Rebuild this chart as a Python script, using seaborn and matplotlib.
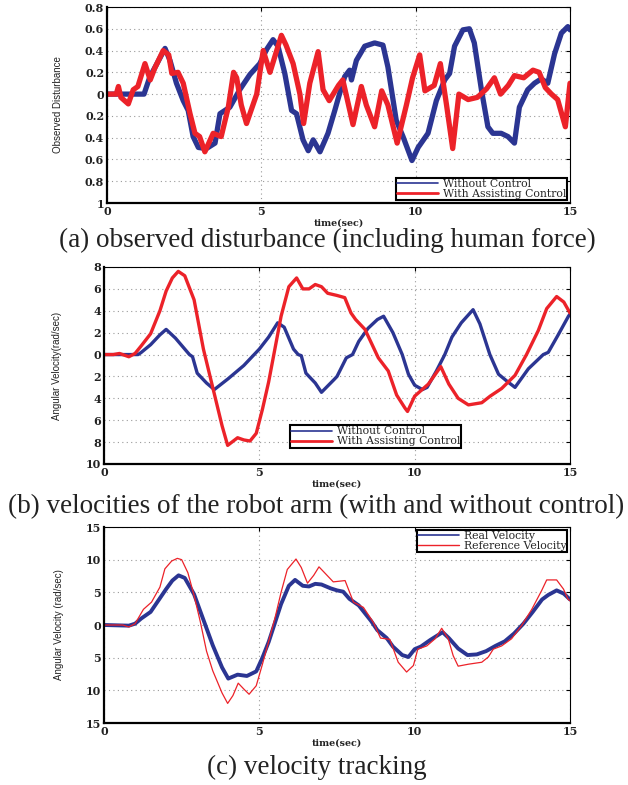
import matplotlib
matplotlib.use("Agg")
import matplotlib.pyplot as plt
from matplotlib.lines import Line2D
import seaborn as sns
import pandas as pd

# ---------------- data ----------------
# (a) observed disturbance
t_a_without = [0, 1.2, 1.39, 1.6, 1.88, 2.04, 2.25, 2.47, 2.63, 2.79, 2.96, 3.22, 3.5, 3.66, 3.98, 4.3,
               4.63, 4.95, 5.17, 5.38, 5.54, 5.76, 5.98, 6.14, 6.35, 6.52, 6.68, 6.9, 7.16, 7.38, 7.5,
               7.7, 7.86, 7.92, 8.08, 8.35, 8.67, 8.94, 9.1, 9.37, 9.59, 9.88, 10.08, 10.4, 10.67, 10.94,
               11.1, 11.26, 11.53, 11.74, 11.9, 12.13, 12.34, 12.5, 12.77, 12.99, 13.2, 13.36, 13.63,
               13.85, 14.07, 14.28, 14.5, 14.72, 14.93, 15.0]
d_a_without = [0, 0, 0.16, 0.27, 0.42, 0.31, 0.1, -0.06, -0.15, -0.39, -0.49, -0.5, -0.45, -0.18, -0.12, 0.04,
               0.18, 0.28, 0.41, 0.5, 0.44, 0.19, -0.15, -0.18, -0.42, -0.52, -0.42, -0.53, -0.36, -0.15, -0.03,
               0.16, 0.22, 0.13, 0.31, 0.44, 0.47, 0.45, 0.25, -0.24, -0.39, -0.61, -0.49, -0.36, -0.06, 0.13,
               0.19, 0.44, 0.59, 0.6, 0.47, 0.04, -0.3, -0.36, -0.36, -0.39, -0.45, -0.12, 0.04,
               0.1, 0.14, 0.1, 0.37, 0.56, 0.62, 0.59]
t_a_with = [0, 0.3, 0.37, 0.45, 0.69, 0.85, 1.0, 1.23, 1.4, 1.55, 1.82, 2.0, 2.1, 2.3, 2.47, 2.69, 2.85, 3.0,
            3.17, 3.44, 3.7, 3.93, 4.1, 4.2, 4.35, 4.52, 4.85, 5.06, 5.28, 5.65, 5.8, 6.03, 6.25, 6.37, 6.57,
            6.84, 7.0, 7.2, 7.5, 7.64, 7.97, 8.24, 8.4, 8.67, 8.9, 9.1, 9.4, 9.7, 9.9, 10.13, 10.3, 10.6,
            10.8, 11.0, 11.2, 11.4, 11.7, 12.0, 12.3, 12.55, 12.75, 13.0, 13.2, 13.5, 13.8, 14.0, 14.2,
            14.4, 14.6, 14.85, 15.0]
d_a_with = [0, 0, 0.07, -0.03, -0.09, 0.04, 0.07, 0.28, 0.13, 0.24, 0.4, 0.36, 0.19, 0.2, 0.1, -0.18, -0.36, -0.39,
            -0.53, -0.36, -0.39, -0.12, 0.2, 0.15, -0.1, -0.27, 0.0, 0.4, 0.2, 0.54, 0.45, 0.28, 0.0, -0.27, 0.1,
            0.39, 0.04, -0.06, 0.08, 0.13, -0.28, 0.07, -0.1, -0.3, 0.03, -0.1, -0.45, -0.1, 0.15, 0.36, 0.03, 0.08,
            0.28, -0.1, -0.5, 0.0, -0.05, -0.03, 0.05, 0.15, 0.0, 0.08, 0.17, 0.15, 0.22, 0.2, 0.06,
            0.0, -0.05, -0.3, 0.1]

# (b) velocities of the robot arm
t_b_without = [0, 1.1, 1.2, 1.5, 1.8, 2.0, 2.3, 2.6, 2.75, 2.85, 3.0, 3.3, 3.55, 4.0, 4.5, 5.0, 5.3, 5.59,
               5.8, 6.1, 6.25, 6.35, 6.5, 6.8, 7.0, 7.4, 7.5, 7.8, 8.0, 8.2, 8.5, 8.8, 9.0, 9.3, 9.6, 9.8,
               10.0, 10.25, 10.4, 10.7, 10.97, 11.2, 11.5, 11.88, 12.1, 12.42, 12.7, 13.0, 13.23, 13.66,
               14.14, 14.3, 14.6, 14.95, 15.0]
v_b_without = [0, 0, 0.2, 0.9, 1.8, 2.3, 1.5, 0.5, 0.0, -0.2, -1.7, -2.6, -3.2, -2.2, -1.0, 0.5, 1.6, 2.9,
               2.5, 0.5, 0.0, -0.1, -1.7, -2.6, -3.45, -2.3, -2.0, -0.3, 0.0, 1.2, 2.4, 3.2, 3.5, 2.0, 0.0, -1.8,
               -2.8, -3.2, -3.0, -1.5, 0.0, 1.6, 2.9, 4.1, 2.8, 0.0, -1.8, -2.5, -3.0, -1.3,
               0.0, 0.2, 1.7, 3.5, 3.7]
t_b_with = [0, 0.3, 0.5, 0.8, 1.0, 1.2, 1.5, 1.8, 2.0, 2.2, 2.39, 2.6, 2.9, 3.2, 3.5, 3.8, 3.98, 4.3, 4.5,
            4.7, 4.9, 5.1, 5.3, 5.5, 5.7, 5.95, 6.2, 6.4, 6.6, 6.8, 7.0, 7.2, 7.5, 7.75, 7.95, 8.1, 8.4,
            8.83, 9.15, 9.42, 9.69, 9.77, 10.0, 10.44, 10.84, 11.1, 11.4, 11.73, 12.16, 12.43, 12.8,
            13.23, 13.6, 13.98, 14.25, 14.57, 14.8, 15.0]
v_b_with = [0, 0, 0.1, -0.2, 0.1, 0.8, 1.9, 4.0, 5.8, 7.0, 7.6, 7.2, 5.0, 0.5, -3.0, -6.5, -8.3, -7.6, -7.8,
            -7.9, -7.2, -5.0, -2.5, 0.5, 3.5, 6.2, 7.0, 6.0, 6.0, 6.4, 6.2, 5.6, 5.4, 5.2, 3.8, 3.2, 2.3,
            -0.3, -1.5, -3.7, -4.9, -5.2, -3.8, -2.7, -1.1, -2.7, -4.0, -4.6, -4.4, -3.8, -3.1,
            -1.9, 0.0, 2.2, 4.2, 5.3, 4.8, 3.8]

# (c) velocity tracking
t_c_real = [0, 0.8, 1.0, 1.2, 1.5, 1.8, 2.0, 2.2, 2.4, 2.6, 2.9, 3.2, 3.5, 3.8, 4.0, 4.3, 4.6, 4.9, 5.1,
            5.3, 5.5, 5.7, 5.95, 6.15, 6.4, 6.6, 6.8, 7.0, 7.3, 7.5, 7.7, 7.9, 8.2, 8.4, 8.6, 8.8, 9.1,
            9.3, 9.6, 9.8, 10.0, 10.2, 10.5, 10.9, 11.1, 11.4, 11.7, 12.0, 12.3, 12.6, 12.9, 13.2, 13.5,
            13.8, 14.1, 14.3, 14.57, 14.8, 15.0]
v_c_real = [0, -0.1, 0.2, 1.0, 2.0, 4.1, 5.5, 6.8, 7.6, 7.2, 4.7, 0.8, -3.1, -6.5, -8.2, -7.6, -7.8, -7.1, -5.0,
            -2.6, 0.3, 3.2, 6.0, 6.9, 6.0, 5.9, 6.3, 6.2, 5.6, 5.3, 5.1, 4.0, 3.0, 1.8, 0.6, -0.8, -2.0,
            -3.3, -4.6, -4.9, -3.7, -3.3, -2.3, -1.1, -2.0, -3.6, -4.6, -4.5, -4.0, -3.2, -2.5, -1.3, 0.2,
            2.0, 3.9, 4.6, 5.3, 4.8, 3.9]
t_c_ref = [0, 0.6, 0.8, 1.0, 1.27, 1.53, 1.8, 1.96, 2.18, 2.36, 2.5, 2.7, 2.9, 3.1, 3.3, 3.5, 3.8, 3.98,
           4.15, 4.32, 4.5, 4.67, 4.9, 5.1, 5.3, 5.5, 5.7, 5.9, 6.18, 6.35, 6.55, 6.75, 6.92, 7.1, 7.38,
           7.76, 8.03, 8.35, 8.67, 8.9, 9.2, 9.47, 9.74, 9.96, 10.1, 10.39, 10.66, 10.87, 11.08, 11.24,
           11.4, 11.73, 12.16, 12.37, 12.53, 12.8, 13.12, 13.44, 13.77, 14.09, 14.25, 14.57, 14.79,
           14.93, 15.0]
v_c_ref = [0, 0, -0.3, 0.2, 2.4, 3.5, 5.8, 8.6, 9.8, 10.2, 10.0, 8.0, 4.5, 0.5, -4.0, -7.0, -10.4, -12.0,
           -10.8, -8.9, -9.8, -10.6, -9.3, -6.0, -2.5, 1.0, 5.0, 8.5, 10.1, 8.8, 6.4, 7.6, 8.9, 8.0, 6.6,
           6.8, 3.5, 2.7, 0.4, -2.0, -2.2, -5.7, -7.2, -6.2, -3.7, -3.2, -2.1, -0.5, -2.1, -4.7,
           -6.3, -6.0, -5.7, -4.9, -3.7, -3.2, -2.1, -0.1, 2.4, 5.3, 6.9, 6.9, 5.5,
           4.0, 3.7]

xticks = [0, 5, 10, 15]
yticks_a = [0.8, 0.6, 0.4, 0.2, 0, -0.2, -0.4, -0.6, -0.8, -1]
ylabels_a = ["0.8", "0.6", "0.4", "0.2", "0", "0.2", "0.4", "0.6", "0.8", "1"]
yticks_b = [8, 6, 4, 2, 0, -2, -4, -6, -8, -10]
ylabels_b = ["8", "6", "4", "2", "0", "2", "4", "6", "8", "10"]
yticks_c = [15, 10, 5, 0, -5, -10, -15]
ylabels_c = ["15", "10", "5", "0", "5", "10", "15"]

BLUE = "#2b3592"
RED = "#ec2229"

sns.set_style("white")
plt.rcParams["font.family"] = ["DejaVu Serif"]

fig = plt.figure(figsize=(6.28, 7.85), dpi=100)
W, H = 628.0, 785.0


def mkax(l, t, r, b):
    return fig.add_axes([l / W, 1 - b / H, (r - l) / W, (b - t) / H])


def style(ax, yticks, ylabels, ylim, ylabel, ylab_x):
    ax.set_xlim(0, 15)
    ax.set_ylim(*ylim)
    ax.set_xticks(xticks)
    ax.set_xticklabels([str(v) for v in xticks])
    ax.set_yticks(yticks)
    ax.set_yticklabels(ylabels)
    ax.grid(True, color="#9a9a9a", linestyle=(0, (1, 3)), linewidth=0.8)
    ax.tick_params(direction="in", length=3, width=0.8, top=True, right=True,
                   labelsize=8, pad=2, colors="black")
    for lab in ax.get_xticklabels() + ax.get_yticklabels():
        lab.set_fontweight("bold")
        lab.set_color("#222222")
    for s in ["left", "bottom"]:
        ax.spines[s].set_linewidth(1.6)
    for s in ["top", "right"]:
        ax.spines[s].set_linewidth(0.8)
    for s in ax.spines.values():
        s.set_color("black")
    ax.set_xlabel("time(sec)", fontsize=6.8, fontweight="bold", labelpad=1, color="#222222")
    ax.set_ylabel(ylabel, family=["Liberation Sans Narrow", "Liberation Sans"], fontsize=7,
                  color="#222222")
    ax.yaxis.set_label_coords(ylab_x, 0.5)


def legend(ax, labels, lws, **kw):
    handles = [Line2D([], [], color=BLUE, lw=lws[0]), Line2D([], [], color=RED, lw=lws[1])]
    lg = ax.legend(handles, labels, prop={"family": "DejaVu Serif", "size": 7.8},
                   frameon=True, fancybox=False, framealpha=1, edgecolor="black",
                   borderpad=0.1, labelspacing=0.0, handlelength=3.8, handletextpad=0.4,
                   borderaxespad=0.25, **kw)
    lg.get_frame().set_linewidth(1.5)
    return lg


# ---- (a)
ax1 = mkax(107, 7, 570, 203)
dfa1 = pd.DataFrame({"t": t_a_without, "v": d_a_without})
dfa2 = pd.DataFrame({"t": t_a_with, "v": d_a_with})
sns.lineplot(data=dfa1, x="t", y="v", ax=ax1, color=BLUE, lw=3.8, sort=False, estimator=None)
sns.lineplot(data=dfa2, x="t", y="v", ax=ax1, color=RED, lw=3.8, sort=False, estimator=None)
style(ax1, yticks_a, ylabels_a, (-1, 0.8), "Observed Disturbance", -0.095)
legend(ax1, ["Without Control", "With Assisting Control"], [1.2, 2.0], loc="lower right")

# ---- (b)
ax2 = mkax(104, 267, 570, 464)
dfb1 = pd.DataFrame({"t": t_b_without, "v": v_b_without})
dfb2 = pd.DataFrame({"t": t_b_with, "v": v_b_with})
sns.lineplot(data=dfb1, x="t", y="v", ax=ax2, color=BLUE, lw=2.4, sort=False, estimator=None)
sns.lineplot(data=dfb2, x="t", y="v", ax=ax2, color=RED, lw=2.4, sort=False, estimator=None)
style(ax2, yticks_b, ylabels_b, (-10, 8), "Angular Velocity(rad/sec)", -0.09)
legend(ax2, ["Without Control", "With Assisting Control"], [1.2, 2.0], loc="lower right",
       bbox_to_anchor=(0.772, 0.07))

# ---- (c)
ax3 = mkax(104, 527, 570, 723)
dfc1 = pd.DataFrame({"t": t_c_real, "v": v_c_real})
dfc2 = pd.DataFrame({"t": t_c_ref, "v": v_c_ref})
sns.lineplot(data=dfc1, x="t", y="v", ax=ax3, color=BLUE, lw=2.8, sort=False, estimator=None)
sns.lineplot(data=dfc2, x="t", y="v", ax=ax3, color=RED, lw=0.9, sort=False, estimator=None)
style(ax3, yticks_c, ylabels_c, (-15, 15), "Angular Velocity (rad/sec)", -0.085)
legend(ax3, ["Real Velocity", "Reference Velocity"], [1.2, 1.0], loc="upper right")

# ---- captions
cap = dict(ha="center", va="center", family=["Liberation Serif"], fontsize=19.5, color="#222222")
fig.text(327 / W, 1 - 240 / H, "(a) observed disturbance (including human force)", **cap)
fig.text(316 / W, 1 - 507 / H, "(b) velocities of the robot arm (with and without control)", **cap)
fig.text(317 / W, 1 - 767 / H, "(c) velocity tracking", **cap)

fig.savefig("out.png", dpi=100)
